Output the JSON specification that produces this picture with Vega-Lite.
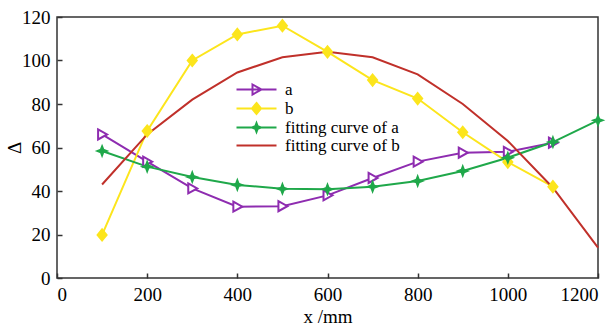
{
  "$schema": "https://vega.github.io/schema/vega-lite/v6.json",
  "width": 541,
  "height": 261,
  "autosize": "none",
  "padding": {"left": 57, "top": 17, "right": 18, "bottom": 53},
  "background": "white",
  "config": {
    "font": "Liberation Serif",
    "view": {"stroke": "#333333", "strokeWidth": 1.5},
    "axis": {
      "labelFont": "Liberation Serif",
      "labelFontSize": 19,
      "labelColor": "black",
      "titleFont": "Liberation Serif",
      "titleFontSize": 19,
      "titleFontWeight": "normal",
      "titleColor": "black",
      "grid": false,
      "domain": false,
      "tickColor": "#333333",
      "tickWidth": 1.5,
      "tickSize": -5,
      "format": "d"
    }
  },
  "data": {
    "values": [
      {"s": "a", "x": 100, "y": 66},
      {"s": "a", "x": 200, "y": 53.5},
      {"s": "a", "x": 300, "y": 41.2},
      {"s": "a", "x": 400, "y": 32.8},
      {"s": "a", "x": 500, "y": 33},
      {"s": "a", "x": 600, "y": 38},
      {"s": "a", "x": 700, "y": 46},
      {"s": "a", "x": 800, "y": 53.5},
      {"s": "a", "x": 900, "y": 57.6},
      {"s": "a", "x": 1000, "y": 58},
      {"s": "a", "x": 1100, "y": 62.2},
      {"s": "b", "x": 100, "y": 19.8},
      {"s": "b", "x": 200, "y": 67.6},
      {"s": "b", "x": 300, "y": 100},
      {"s": "b", "x": 400, "y": 112},
      {"s": "b", "x": 500, "y": 116},
      {"s": "b", "x": 600, "y": 104},
      {"s": "b", "x": 700, "y": 91},
      {"s": "b", "x": 800, "y": 82.5},
      {"s": "b", "x": 900, "y": 67},
      {"s": "b", "x": 1000, "y": 53.3},
      {"s": "b", "x": 1100, "y": 42},
      {"s": "fitting curve of a", "x": 100, "y": 58.4},
      {"s": "fitting curve of a", "x": 200, "y": 51.2},
      {"s": "fitting curve of a", "x": 300, "y": 46.4},
      {"s": "fitting curve of a", "x": 400, "y": 42.8},
      {"s": "fitting curve of a", "x": 500, "y": 41},
      {"s": "fitting curve of a", "x": 600, "y": 40.8},
      {"s": "fitting curve of a", "x": 700, "y": 42},
      {"s": "fitting curve of a", "x": 800, "y": 44.6},
      {"s": "fitting curve of a", "x": 900, "y": 49.2},
      {"s": "fitting curve of a", "x": 1000, "y": 55.3},
      {"s": "fitting curve of a", "x": 1100, "y": 62.5},
      {"s": "fitting curve of a", "x": 1200, "y": 72.5},
      {"s": "fitting curve of b", "x": 100, "y": 43},
      {"s": "fitting curve of b", "x": 200, "y": 66},
      {"s": "fitting curve of b", "x": 300, "y": 82},
      {"s": "fitting curve of b", "x": 400, "y": 94.5},
      {"s": "fitting curve of b", "x": 500, "y": 101.5},
      {"s": "fitting curve of b", "x": 600, "y": 104},
      {"s": "fitting curve of b", "x": 700, "y": 101.5},
      {"s": "fitting curve of b", "x": 800, "y": 93.6},
      {"s": "fitting curve of b", "x": 900, "y": 80},
      {"s": "fitting curve of b", "x": 1000, "y": 63},
      {"s": "fitting curve of b", "x": 1100, "y": 41.5},
      {"s": "fitting curve of b", "x": 1200, "y": 14}
    ]
  },
  "layer": [
    {
      "mark": {"type": "line", "strokeWidth": 2},
      "encoding": {
        "x": {
          "field": "x", "type": "quantitative",
          "scale": {"domain": [0, 1200], "nice": false},
          "axis": {"values": [0, 200, 400, 600, 800, 1000, 1200], "title": "x /mm", "labelPadding": 12, "titlePadding": 3}
        },
        "y": {
          "field": "y", "type": "quantitative",
          "scale": {"domain": [0, 120], "nice": false},
          "axis": {"values": [0, 20, 40, 60, 80, 100, 120], "title": "Δ", "labelPadding": 12, "titlePadding": -3}
        },
        "color": {
          "field": "s", "type": "nominal",
          "scale": {
            "domain": ["a", "b", "fitting curve of a", "fitting curve of b"],
            "range": ["#8E2CB0", "#FCE51C", "#1FA84A", "#C0302A"]
          },
          "legend": {
            "orient": "none",
            "legendX": 191,
            "legendY": 64,
            "title": null,
            "padding": 0,
            "labelFont": "Liberation Serif",
            "labelFontSize": 17,
            "labelColor": "black",
            "labelLimit": 300,
            "symbolSize": 100,
            "labelOffset": 20,
            "rowPadding": 0,
            "symbolStrokeWidth": 2,
            "encode": {
              "symbols": {
                "update": {
                  "shape": {"signal": "datum.value == 'a' ? 'M-4,0L4,0M-0.8,-1L1,0L-0.8,1Z' : datum.value == 'b' ? 'M-4,0L4,0M0,-1.1L0.9,0L0,1.1L-0.9,0Z' : datum.value == 'fitting curve of a' ? 'M-4,0L4,0M0,-0.9L0.25,-0.25L0.9,0L0.25,0.25L0,0.9L-0.25,0.25L-0.9,0L-0.25,-0.25Z' : 'M-4,0L4,0'"},
                  "fill": {"signal": "datum.value == 'a' ? 'white' : datum.value == 'b' ? '#FCE51C' : datum.value == 'fitting curve of a' ? '#1FA84A' : 'transparent'"},
                  "opacity": {"value": 1}
                }
              }
            }
          }
        }
      }
    },
    {
      "transform": [{"filter": "datum.s != 'fitting curve of b'"}],
      "mark": {"type": "point", "size": 100, "strokeWidth": 2, "opacity": 1},
      "encoding": {
        "x": {"field": "x", "type": "quantitative"},
        "y": {"field": "y", "type": "quantitative"},
        "shape": {
          "field": "s", "type": "nominal",
          "scale": {
            "domain": ["a", "b", "fitting curve of a"],
            "range": ["M-0.8,-1L1,0L-0.8,1Z", "M0,-1.1L0.9,0L0,1.1L-0.9,0Z", "M0,-0.9L0.25,-0.25L0.9,0L0.25,0.25L0,0.9L-0.25,0.25L-0.9,0L-0.25,-0.25Z"]
          },
          "legend": null
        },
        "stroke": {
          "field": "s", "type": "nominal",
          "scale": {"domain": ["a", "b", "fitting curve of a"], "range": ["#8E2CB0", "#FCE51C", "#1FA84A"]},
          "legend": null
        },
        "fill": {
          "field": "s", "type": "nominal",
          "scale": {"domain": ["a", "b", "fitting curve of a"], "range": ["white", "#FCE51C", "#1FA84A"]},
          "legend": null
        }
      }
    }
  ]
}
